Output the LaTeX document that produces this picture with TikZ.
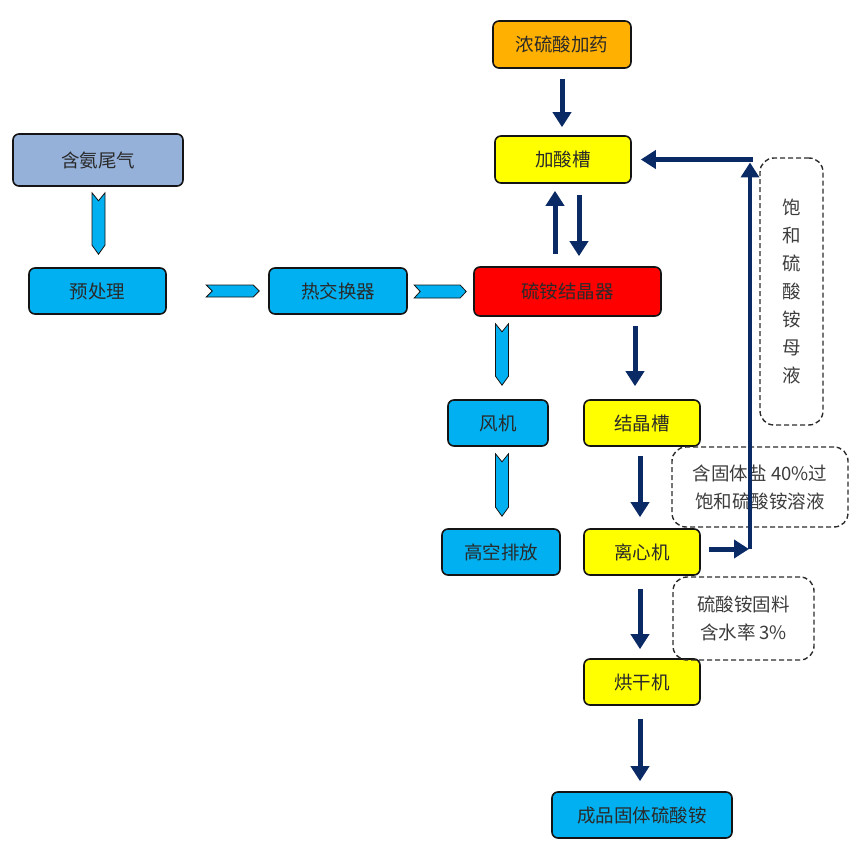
\documentclass[tikz,border=0pt]{standalone}
\usepackage{fontspec}
\newfontfamily\cjk{Noto Sans CJK SC}
\usetikzlibrary{arrows.meta,calc}
\definecolor{orangeb}{HTML}{FFB000}
\definecolor{yellowb}{HTML}{FFFF00}
\definecolor{redb}{HTML}{FF0000}
\definecolor{cyanb}{HTML}{00B0F0}
\definecolor{greyblue}{HTML}{95B1DA}
\definecolor{navy}{HTML}{0A2A66}
\definecolor{boxline}{HTML}{141414}
\definecolor{txt}{HTML}{2A2A2A}
\definecolor{notetxt}{HTML}{3C3C3C}
\begin{document}
\begin{tikzpicture}[x=1pt,y=1pt,
  box/.style={draw=boxline, line width=1.6pt, rounded corners=6pt, minimum height=46pt,
    inner sep=0pt, text=txt, font=\cjk\fontsize{18.5}{22}\selectfont},
  note/.style={draw=boxline!90, dashed, dash pattern=on 5pt off 3pt, line width=1.4pt,
    rounded corners=14pt, inner sep=0pt, text=notetxt, align=center,
    font=\cjk\fontsize{18.5}{28}\selectfont},
  flow/.style={draw=navy, line width=5pt, -{Triangle[width=18pt,length=15pt]}},
  chev/.style={fill=cyanb, draw=boxline, line width=0.8pt}]
\useasboundingbox (0,0) rectangle (860,-848);

% process boxes
\node[box, fill=orangeb, minimum width=138pt, minimum height=47pt] (acid) at (562,-44.5) {浓硫酸加药};
\node[box, fill=yellowb, minimum width=136pt, minimum height=47pt] (tank) at (563,-159.5) {加酸槽};
\node[box, fill=greyblue, minimum width=170pt, minimum height=52pt] (gas) at (98,-160) {含氨尾气};
\node[box, fill=cyanb, minimum width=137pt] (pre) at (97.5,-291) {预处理};
\node[box, fill=cyanb, minimum width=138pt] (hx) at (338,-291) {热交换器};
\node[box, fill=redb, minimum width=187pt, minimum height=49pt] (cry) at (567.5,-291.5) {硫铵结晶器};
\node[box, fill=cyanb, minimum width=100pt] (fan) at (498,-423) {风机};
\node[box, fill=yellowb, minimum width=116pt] (ctank) at (642,-423) {结晶槽};
\node[box, fill=cyanb, minimum width=118pt] (vent) at (501,-552) {高空排放};
\node[box, fill=yellowb, minimum width=116pt] (cent) at (642,-552) {离心机};
\node[box, fill=yellowb, minimum width=116pt] (dry) at (642,-682) {烘干机};
\node[box, fill=cyanb, minimum width=180pt] (prod) at (642,-815) {成品固体硫酸铵};

% dashed notes
\node[note, minimum width=63pt, minimum height=267pt] (mother) at (791.5,-291.5) {饱\\和\\硫\\酸\\铵\\母\\液};
\node[note, minimum width=176pt, minimum height=80pt] (note1) at (760,-487) {含固体盐 40\%过\\饱和硫酸铵溶液};
\node[note, minimum width=141pt, minimum height=83pt] (note2) at (743.5,-618.5) {硫酸铵固料\\含水率 3\%};

% chevron (gas) connectors
\draw[chev] let \p1=($(gas.south)+(0.5,-6)$), \p2=($(pre.north)+(1,13)$) in
  (\x1-6.5pt,\y1) -- (\x1,\y1-8pt) -- (\x1+6.5pt,\y1) -- (\x1+6.5pt,\y2+9pt) -- (\x1,\y2) -- (\x1-6.5pt,\y2+9pt) -- cycle;
\draw[chev] let \p1=($(fan.north |- cry.south)+(4,-7)$), \p2=($(fan.north)+(4,14)$) in
  (\x1-6.5pt,\y1) -- (\x1,\y1-8pt) -- (\x1+6.5pt,\y1) -- (\x1+6.5pt,\y2+9pt) -- (\x1,\y2) -- (\x1-6.5pt,\y2+9pt) -- cycle;
\draw[chev] let \p1=($(fan.south)+(4,-7)$), \p2=($(vent.north)+(1,12)$) in
  (\x1-6.5pt,\y1) -- (\x1,\y1-8pt) -- (\x1+6.5pt,\y1) -- (\x1+6.5pt,\y2+9pt) -- (\x1,\y2) -- (\x1-6.5pt,\y2+9pt) -- cycle;
\draw[chev] let \p1=($(hx.west)+(-62,0)$), \p2=($(hx.west)+(-9,0)$) in
  (\x1,\y1+6pt) -- (\x2-6pt,\y1+6pt) -- (\x2,\y1) -- (\x2-6pt,\y1-6pt) -- (\x1,\y1-6pt) -- (\x1+6pt,\y1) -- cycle;
\draw[chev] let \p1=($(cry.west)+(-59,0)$), \p2=($(cry.west)+(-7,0)$) in
  (\x1,\y1+6.5pt) -- (\x2-6pt,\y1+6.5pt) -- (\x2,\y1) -- (\x2-6pt,\y1-6.5pt) -- (\x1,\y1-6.5pt) -- (\x1+6pt,\y1) -- cycle;

% navy flow arrows
\draw[flow, shorten <=10pt, shorten >=8pt] (acid.south) -- (acid.south |- tank.north);
\draw[flow, shorten <=12pt, shorten >=7pt] ([xshift=-12.5pt]cry.north) -- ([xshift=-12.5pt]cry.north |- tank.south);
\draw[flow, shorten <=11pt, shorten >=10pt] ([xshift=11.5pt]cry.north |- tank.south) -- ([xshift=11.5pt]cry.north);
\draw[flow, shorten <=9pt, shorten >=13pt] ([xshift=-7pt]ctank.north |- cry.south) -- ([xshift=-7pt]ctank.north);
\draw[flow, shorten <=9pt, shorten >=11pt] ([xshift=-2pt]ctank.south) -- ([xshift=-2pt]cent.north);
\draw[flow, shorten <=13pt, shorten >=9pt] ([xshift=-2pt]cent.south) -- ([xshift=-2pt]dry.north);
\draw[flow, shorten <=13pt, shorten >=10pt] ([xshift=-2pt]dry.south) -- ([xshift=-2pt]prod.north);

% recycle loop of mother liquor
\coordinate (riseB) at (750,-549);
\coordinate (riseT) at (750,-159.5);
\draw[flow, shorten <=8pt, shorten >=1pt] (cent.east |- riseB) -- (riseB);
\draw[flow, line width=4.5pt] (riseB) -- ($(riseT)+(0,-3)$);
\draw[flow, shorten >=9pt] ($(riseT)+(2.5,0)$) -- (tank.east);
\end{tikzpicture}
\end{document}
